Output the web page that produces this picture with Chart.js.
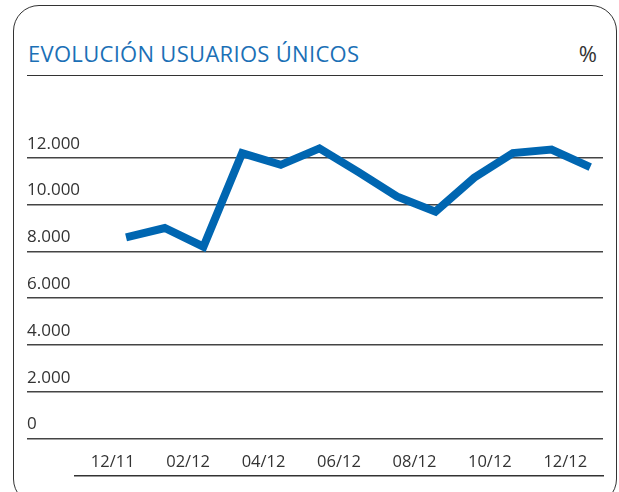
<!DOCTYPE html>
<html>
<head>
<meta charset="utf-8">
<script src="https://cdn.jsdelivr.net/npm/chart.js@4/dist/chart.umd.min.js"></script>
<style>
  body { margin: 0; background: #fff; }
  #wrap { position: relative; width: 619px; height: 492px; overflow: hidden; font-family: "Open Sans", sans-serif; }
  #frame { position: absolute; left: 13px; top: 5px; width: 604px; height: 500px; border: 1.5px solid #333; border-radius: 26px; box-sizing: border-box; }
  #title { position: absolute; left: 28px; top: 42px; font-size: 22px; line-height: 22px; letter-spacing: 0.3px; color: #1b70b6; white-space: nowrap; }
  #unit { position: absolute; right: 22px; top: 42px; font-size: 22px; line-height: 22px; color: #333; }
  #rule { position: absolute; left: 27px; top: 75px; width: 576px; border-top: 1.5px solid #333; }
  canvas { position: absolute; left: 0; top: 0; }
</style>
</head>
<body>
<div id="wrap">
  <div id="frame"></div>
  <div id="title">EVOLUCIÓN USUARIOS ÚNICOS</div>
  <div id="unit">%</div>
  <div id="rule"></div>
  <canvas id="chart" width="619" height="492"></canvas>
</div>
<script>
// monthly unique users, 12/11 .. 12/12
const months = ['12/11','01/12','02/12','03/12','04/12','05/12','06/12','07/12','08/12','09/12','10/12','11/12','12/12']
const users = [8600, 9000, 8200, 12200, 11700, 12400, 11400, 10350, 9700, 11150, 12200, 12350, 11600]
const xTicks = ['12/11','02/12','04/12','06/12','08/12','10/12','12/12']
const yTicks = [0, 2000, 4000, 6000, 8000, 10000, 12000]

const fmt = v => v === 0 ? '0' : v.toLocaleString('de-DE')

new Chart(document.getElementById('chart'), {
  type: 'line',
  data: {
    datasets: [{
      label: 'Usuarios únicos',
      data: users.map((v, i) => ({x: i, y: v, m: months[i]})),
      borderColor: '#0066b1',
      borderWidth: 8,
      borderJoinStyle: 'miter',
      borderCapStyle: 'butt',
      pointRadius: 0,
      tension: 0,
      fill: false
    }]
  },
  options: {
    responsive: false,
    animation: false,
    layout: { padding: { left: 27, right: 16, top: 111, bottom: 16 } },
    plugins: { legend: { display: false }, title: { display: false }, tooltip: { enabled: false } },
    scales: {
      x: { type: 'linear', display: false, min: -1.32, max: 12.33 },
      xl: {
        type: 'category',
        labels: xTicks,
        position: 'bottom',
        offset: true,
        grid: { drawOnChartArea: false, drawTicks: false },
        border: { display: true, color: '#333', width: 1.5 },
        ticks: { mirror: true, padding: 4, color: '#333', maxRotation: 0, autoSkip: false,
                 font: { family: 'Open Sans', size: 16.5 } },
        afterFit: s => { s.height = 0 }
      },
      y: {
        min: -1600, max: 14000,
        afterBuildTicks: s => { s.ticks = yTicks.map(v => ({value: v})) },
        grid: { color: '#444', lineWidth: 1.5, tickLength: 48 },
        border: { display: false },
        ticks: { mirror: true, crossAlign: 'near', padding: -48, labelOffset: -14, color: '#333',
                 font: { family: 'Open Sans', size: 17 }, callback: v => fmt(v) },
        afterFit: s => { s.width = 48 }
      }
    }
  }
})
</script>
</body>
</html>
